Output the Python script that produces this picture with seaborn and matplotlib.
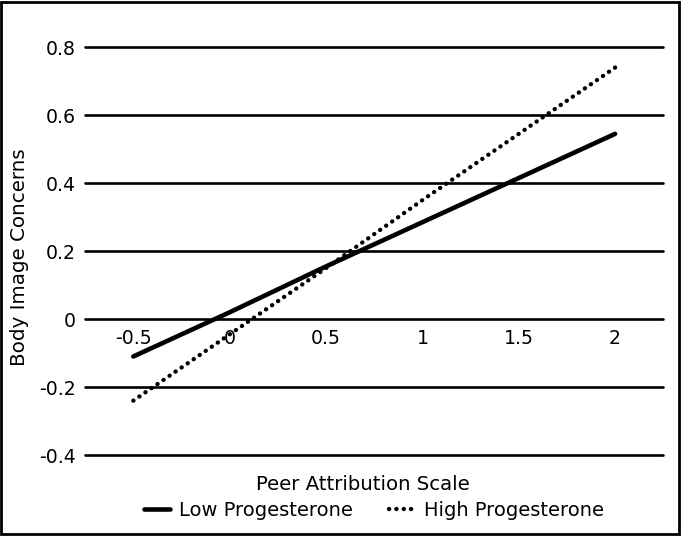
import pandas as pd
import seaborn as sns
import matplotlib.pyplot as plt
from matplotlib.patches import Rectangle

# Values
peer_scale = ['-0.5', '0', '0.5', '1', '1.5', '2']
low_prog = [-0.11, 0.02, 0.155, 0.285, 0.415, 0.545]
high_prog = [-0.24, -0.045, 0.15, 0.35, 0.545, 0.74]
y_ticks = [0.8, 0.6, 0.4, 0.2, 0, -0.2, -0.4]
y_tick_labels = ['0.8', '0.6', '0.4', '0.2', '0', '-0.2', '-0.4']

df = pd.DataFrame({
    'x': list(range(len(peer_scale))) * 2,
    'value': low_prog + high_prog,
    'group': ['Low Progesterone'] * len(low_prog) + ['High Progesterone'] * len(high_prog),
})

sns.set_style('white')
plt.rcParams['font.family'] = ['DejaVu Sans']
plt.rcParams.update({'text.color': 'black', 'xtick.color': 'black',
                     'ytick.color': 'black', 'axes.labelcolor': 'black'})

fig = plt.figure(figsize=(6.81, 5.36), dpi=100)
ax = fig.add_axes([0.125, 0.151, 0.849, 0.761])

styles = {'Low Progesterone': ('-', 3.3), 'High Progesterone': ((0, (0.05, 1.65)), 3.1)}
for g, (ls, lw) in styles.items():
    sub = df[df['group'] == g]
    sns.lineplot(data=sub, x='x', y='value', ax=ax, color='black', linewidth=lw,
                 linestyle=ls, label=g, solid_capstyle='round', dash_capstyle='round',
                 legend=False)

ax.set_xlim(-0.5, len(peer_scale) - 0.5)
ax.set_ylim(-0.4, 0.8)
ax.set_yticks(y_ticks)
ax.set_yticklabels(y_tick_labels)
ax.set_xticks(range(len(peer_scale)))
ax.set_xticklabels(peer_scale)
ax.yaxis.grid(True, color='black', linewidth=1.9)
ax.set_axisbelow(True)
for s in ax.spines.values():
    s.set_visible(False)
ax.spines['bottom'].set_position(('data', 0))
ax.tick_params(axis='both', length=0, labelsize=13.6)
ax.tick_params(axis='x', pad=7)
ax.tick_params(axis='y', pad=7)
for line in ax.get_ygridlines():
    line.set_clip_on(False)

ax.set_xlabel('')
ax.set_ylabel('')
fig.text(20 / 681, 1 - 257 / 536, 'Body Image Concerns', rotation=90,
         ha='center', va='center', fontsize=14.3)
fig.text(363 / 681, 1 - 485 / 536, 'Peer Attribution Scale', ha='center', va='center',
         fontsize=14.2)

handles = ax.get_lines()[:2]
fig.legend(handles, ['Low Progesterone', 'High Progesterone'], loc='center',
           bbox_to_anchor=(374 / 681, 1 - 510 / 536), ncol=2, frameon=False, fontsize=14,
           handlelength=1.35, columnspacing=1.9, handletextpad=0.42,
           borderpad=0, borderaxespad=0)

fig.patches.append(Rectangle((0.002, 0.003), 0.995, 0.994, transform=fig.transFigure,
                             fill=False, edgecolor='black', linewidth=2.0))

plt.savefig('out.png', dpi=100)
